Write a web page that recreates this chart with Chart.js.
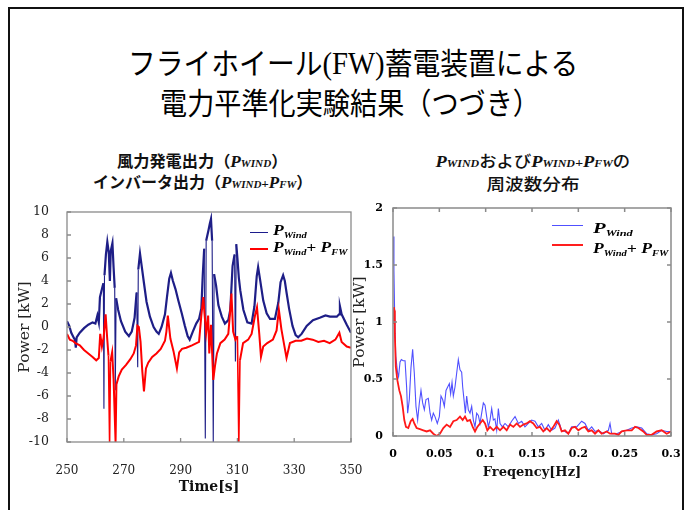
<!DOCTYPE html>
<html><head><meta charset="utf-8">
<script src="https://cdn.jsdelivr.net/npm/chart.js@4.4.1/dist/chart.umd.min.js"></script>
<style>
html,body{margin:0;padding:0;background:#fff;}
body{width:694px;height:510px;position:relative;overflow:hidden;}
#frame{position:absolute;left:8px;top:7px;width:676px;height:540px;border:2px solid #111;box-sizing:border-box;}
.t{position:absolute;white-space:nowrap;line-height:1;transform-origin:50% 50%;color:#000;}
.main{font-family:"Noto Sans CJK JP";font-size:30px;font-weight:400;}
.main .lat{font-family:"Liberation Serif";font-size:31px;}
.sub{font-family:"Noto Sans CJK JP";font-size:16px;font-weight:700;color:#111;}
.sub.r{font-weight:500;}
.P{font-family:"Liberation Serif";font-style:italic;font-weight:700;font-size:17px;}
.sc{font-family:"Liberation Serif";font-style:italic;font-weight:700;font-size:11px;}
.lg{font-family:"Liberation Serif";font-style:italic;font-weight:700;font-size:15px;color:#000;}
.lg sub{font-size:9px;vertical-align:baseline;position:relative;top:3px;}
.ln{position:absolute;}
canvas{position:absolute;}
</style></head>
<body>
<div id="frame"></div>
<div id="t1" class="t main">フライホイール<span class="lat">(FW)</span>蓄電装置による</div>
<div id="t2" class="t main">電力平準化実験結果（つづき）</div>
<div id="s1" class="t sub">風力発電出力（<span class="P">P</span><span class="sc">WIND</span>）</div>
<div id="s2" class="t sub">インバータ出力（<span class="P">P</span><span class="sc">WIND</span><span class="sc" style="font-size:13px">+</span><span class="P">P</span><span class="sc">FW</span>）</div>
<div id="s3" class="t sub r"><span class="P">P</span><span class="sc">WIND</span>および<span class="P">P</span><span class="sc">WIND</span><span class="sc" style="font-size:13px">+</span><span class="P">P</span><span class="sc">FW</span>の</div>
<div id="s4" class="t sub r">周波数分布</div>

<canvas id="c1" width="362" height="305" style="left:0px;top:195px"></canvas>
<canvas id="c2" width="340" height="300" style="left:350px;top:195px"></canvas>

<div class="ln" style="left:250px;top:232px;width:18px;height:1.4px;background:rgb(28,28,140)"></div>
<div class="ln" style="left:250px;top:248px;width:18px;height:2px;background:rgb(255,0,0)"></div>
<div id="l1" class="t lg">P<sub>Wind</sub></div>
<div id="l2" class="t lg">P<sub>Wind</sub>+ P<sub>FW</sub></div>

<div class="ln" style="left:552px;top:224.5px;width:31px;height:1px;background:rgb(80,80,255)"></div>
<div class="ln" style="left:552px;top:244px;width:31px;height:2px;background:rgb(255,30,30)"></div>
<div id="l3" class="t lg">P<sub>Wind</sub></div>
<div id="l4" class="t lg">P<sub>Wind</sub>+ P<sub>FW</sub></div>

<script>
// ---- Left chart: time series ----
const timeTicks = [250, 270, 290, 310, 330, 350];
const powerTicks = [-10, -8, -6, -4, -2, 0, 2, 4, 6, 8, 10];

const windTime = [250.0,250.8,251.5,252.5,252.8,253.1,253.4,254.5,256.0,257.5,259.0,260.0,260.7,261.2,261.6,262.3,262.8,263.0,263.2,263.7,264.2,264.7,265.1,265.4,266.0,266.4,266.8,267.0,267.3,268.0,269.0,270.5,271.8,272.8,273.8,274.5,274.9,275.1,275.7,276.3,277.0,278.0,279.2,280.5,281.5,282.3,283.3,284.5,285.2,286.0,286.6,287.3,288.2,289.2,290.4,291.5,292.5,293.2,294.3,295.5,296.5,297.3,297.8,298.3,298.7,299.0,299.8,300.3,300.7,301.1,301.5,301.8,302.5,303.3,304.5,305.6,306.8,307.5,308.3,309.0,309.3,309.6,310.0,310.5,311.0,312.1,313.5,315.0,316.0,316.8,317.3,318.0,319.1,320.3,321.5,323.2,324.4,325.2,326.1,326.7,327.3,328.2,329.4,330.5,331.4,332.6,334.4,336.6,339.0,341.0,342.6,345.0,345.8,346.1,346.7,348.5,350.0];
const windPower = [0.5,0.1,-0.5,-1.0,-1.1,-1.8,-0.9,-0.5,-0.1,0.2,0.4,0.3,1.0,0.4,2.6,3.3,3.8,-7.1,4.5,6.3,7.4,6.5,4.0,6.6,7.3,5.2,3.4,-5.5,2.5,1.5,0.5,-0.4,-0.8,-0.4,0.8,3.0,-3.5,5.0,6.4,5.3,4.0,2.2,0.9,0.0,-0.4,-0.6,0.0,1.1,2.6,4.2,4.7,4.0,3.3,2.3,1.2,0.1,-0.8,-1.1,-0.4,0.3,0.7,1.6,4.5,6.8,-9.7,7.5,8.4,9.0,9.4,7.5,-10,4.6,3.6,1.9,0.9,0.3,0.6,1.5,5.3,6.3,-3.0,7.2,6.0,4.3,3.2,1.5,0.4,0.3,1.8,4.4,5.2,4.1,2.3,1.2,0.7,0.7,2.1,3.9,4.5,4.0,3.0,1.6,0.1,-0.7,-0.9,-0.6,0.1,0.6,0.8,1.0,0.9,0.9,1.1,1.8,1.1,0.2,-0.5];

const fwTime = [250.0,251.0,252.0,253.0,254.5,256.0,257.5,259.0,260.3,261.2,261.7,262.3,262.9,263.6,264.1,264.6,265.0,265.3,265.9,266.4,267.1,267.4,268.2,269.3,270.8,272.3,273.5,274.3,274.8,275.3,275.9,276.5,277.1,277.8,278.6,280.0,281.5,283.0,284.5,285.0,285.5,286.4,287.5,288.7,289.5,290.5,292.0,294.0,296.5,297.3,298.0,298.4,299.0,299.7,300.1,300.7,301.5,302.1,302.8,304.0,305.5,306.8,307.5,307.9,308.5,309.3,310.0,310.5,310.9,312.0,313.8,315.0,316.2,316.9,317.7,318.3,319.1,320.5,322.5,323.8,324.6,325.5,326.5,327.3,328.5,330.5,332.5,334.5,336.5,338.5,340.5,342.5,344.5,345.9,346.7,348.5,350.0];
const fwPower = [-0.6,-1.1,-1.2,-1.4,-1.6,-2.0,-2.3,-2.6,-2.9,-2.7,-0.6,-1.7,-0.9,1.1,-0.8,-2.5,-10,-3.0,-2.2,-4.5,-10,-5.0,-4.3,-3.7,-3.3,-2.8,-2.3,-1.6,0.1,0.0,-1.3,-3.8,-5.6,-3.6,-3.1,-2.6,-2.3,-1.9,-1.2,-0.4,1.0,-1.0,-2.1,-3.6,-2.2,-1.9,-1.8,-1.6,-1.3,1.0,2.6,1.2,-0.5,1.0,-2.3,0.2,-4.6,-3.4,-2.3,-1.4,-1.1,-0.6,1.5,2.9,-0.4,-1.1,-0.8,-10,-2.9,-1.4,-1.1,-0.6,1.0,1.7,-0.6,-2.6,-1.7,-1.4,-1.1,-0.3,1.5,-0.2,-1.6,-2.7,-1.4,-1.2,-1.2,-1.0,-1.1,-1.3,-1.2,-1.4,-1.1,-0.5,-1.3,-1.7,-1.8];

// ---- Right chart: frequency spectrum ----
const freqTicks = [0, 0.05, 0.1, 0.15, 0.2, 0.25, 0.3];
const freqTickLabels = ['0', '0.05', '0.1', '0.15', '0.2', '0.25', '0.3'];
const specTicks = [0, 0.5, 1, 1.5, 2];
const specTickLabels = ['0', '0.5', '1', '1.5', '2'];

const freqWind = [0,0.001,0.002,0.003,0.005,0.006,0.0076,0.009,0.011,0.013,0.0147,0.0158,0.0176,0.0194,0.0212,0.023,0.0248,0.0266,0.0284,0.0302,0.032,0.0338,0.0356,0.0381,0.040,0.0417,0.0435,0.0453,0.0478,0.050,0.0518,0.0536,0.0554,0.0572,0.059,0.0608,0.0622,0.0637,0.0651,0.0669,0.0687,0.0705,0.0723,0.0741,0.0752,0.0766,0.0781,0.0795,0.0813,0.0831,0.0849,0.0867,0.0885,0.0903,0.0921,0.0939,0.0957,0.0975,0.0993,0.1011,0.1029,0.1047,0.1065,0.1083,0.110,0.1119,0.1137,0.1155,0.118,0.1209,0.1245,0.128,0.1317,0.1353,0.1389,0.1424,0.146,0.1496,0.1532,0.1568,0.1604,0.164,0.1676,0.1712,0.1748,0.1784,0.182,0.1856,0.1892,0.1928,0.1982,0.2036,0.2072,0.2108,0.2144,0.218,0.2216,0.227,0.2324,0.2342,0.236,0.2414,0.2468,0.2522,0.2576,0.263,0.2684,0.2737,0.2791,0.2845,0.2899,0.2953,0.300];
const specWind = [1.75,1.45,0.96,0.70,0.55,0.52,0.65,0.67,0.66,0.66,0.43,0.20,0.32,0.60,0.76,0.55,0.26,0.14,0.29,0.40,0.29,0.23,0.32,0.33,0.20,0.14,0.20,0.17,0.11,0.17,0.35,0.32,0.26,0.40,0.43,0.46,0.37,0.47,0.35,0.43,0.55,0.67,0.58,0.56,0.43,0.32,0.20,0.35,0.23,0.20,0.26,0.14,0.08,0.20,0.18,0.11,0.20,0.29,0.27,0.17,0.08,0.14,0.24,0.14,0.15,0.05,0.24,0.11,0.08,0.11,0.08,0.13,0.17,0.11,0.13,0.08,0.11,0.14,0.13,0.08,0.11,0.05,0.10,0.05,0.07,0.14,0.05,0.04,0.02,0.08,0.08,0.13,0.11,0.05,0.08,0.04,0.05,0.02,0.05,0.11,0.02,0.02,0.04,0.05,0.07,0.08,0.07,0.02,0.01,0.02,0.05,0.04,0.04];

const freqFw = [0,0.001,0.0015,0.002,0.003,0.0047,0.0068,0.0086,0.0104,0.0122,0.014,0.0165,0.0191,0.0212,0.023,0.0255,0.0291,0.0327,0.0363,0.040,0.0435,0.0471,0.0507,0.0543,0.0579,0.0615,0.0651,0.0687,0.0723,0.0752,0.0777,0.0802,0.0831,0.086,0.0885,0.091,0.0939,0.0968,0.0993,0.1018,0.1047,0.1083,0.1119,0.1155,0.1191,0.1227,0.1263,0.1299,0.1335,0.1371,0.1406,0.1442,0.1478,0.1514,0.155,0.1586,0.1622,0.1658,0.1694,0.173,0.1766,0.1795,0.182,0.1856,0.1892,0.1928,0.1964,0.20,0.2036,0.2072,0.2108,0.2144,0.218,0.2216,0.2252,0.2306,0.2342,0.2396,0.2432,0.2468,0.2522,0.2576,0.2612,0.2648,0.2701,0.2737,0.2791,0.2845,0.2899,0.2953,0.300];
const specFw = [0.99,1.13,1.10,0.90,0.61,0.49,0.40,0.35,0.26,0.14,0.08,0.07,0.13,0.15,0.11,0.07,0.06,0.05,0.04,0.05,0.02,0.00,0.02,0.07,0.10,0.08,0.13,0.14,0.17,0.14,0.17,0.13,0.14,0.08,0.04,0.08,0.11,0.14,0.11,0.05,0.08,0.05,0.08,0.05,0.08,0.05,0.10,0.08,0.11,0.08,0.10,0.11,0.13,0.11,0.07,0.08,0.04,0.07,0.04,0.08,0.13,0.10,0.04,0.05,0.02,0.07,0.08,0.05,0.07,0.08,0.04,0.05,0.02,0.05,0.02,0.04,0.02,0.02,0.01,0.04,0.05,0.05,0.08,0.07,0.04,0.01,0.01,0.04,0.05,0.02,0.04];

const xy = (xs, ys) => xs.map((x, i) => ({ x: x, y: ys[i] }));

const framePlugin = {
  id: 'frame',
  afterDatasetsDraw(chart, args, o) {
    const { ctx, chartArea: a, scales: { x, y } } = chart;
    ctx.save();
    ctx.strokeStyle = o.color;
    ctx.lineWidth = o.width;
    ctx.beginPath();
    x.ticks.forEach(t => {
      const p = x.getPixelForValue(t.value);
      ctx.moveTo(p, a.bottom); ctx.lineTo(p, a.bottom - o.len);
      if (o.all) { ctx.moveTo(p, a.top); ctx.lineTo(p, a.top + o.len); }
    });
    y.ticks.forEach(t => {
      const p = y.getPixelForValue(t.value);
      ctx.moveTo(a.left, p); ctx.lineTo(a.left + o.len, p);
      if (o.all) { ctx.moveTo(a.right, p); ctx.lineTo(a.right - o.len, p); }
    });
    ctx.stroke();
    ctx.strokeRect(a.left, a.top, a.right - a.left, a.bottom - a.top);
    ctx.restore();
  }
};

// thin stroke on the sharp one-sample spikes
const spikeWidth = (thin) => (c) => Math.abs(c.p1.parsed.y - c.p0.parsed.y) > 6 ? thin : undefined;
const noPad = s => { s.paddingLeft = 0; s.paddingRight = 0; };

new Chart(document.getElementById('c1'), {
  type: 'line',
  data: { datasets: [
    { label: 'P_Wind', data: xy(windTime, windPower), borderColor: 'rgb(30,30,135)', borderWidth: 2.2, pointRadius: 0, order: 2,
      segment: { borderWidth: spikeWidth(1.1) } },
    { label: 'P_Wind + P_FW', data: xy(fwTime, fwPower), borderColor: 'rgb(255,0,0)', borderWidth: 2, pointRadius: 0, order: 1,
      segment: { borderWidth: spikeWidth(1.6) } }
  ]},
  options: {
    responsive: false, animation: false,
    layout: { padding: { top: 17, right: 11, left: 0, bottom: 0 } },
    plugins: { legend: { display: false }, tooltip: { enabled: false },
      frame: { color: '#8a8a8a', width: 1.3, len: 4, all: false } },
    scales: {
      x: { type: 'linear', min: 250, max: 350,
        afterBuildTicks: s => { s.ticks = timeTicks.map(v => ({ value: v })); },
        afterFit: s => { s.height = 58; noPad(s); },
        grid: { display: false }, border: { display: false },
        ticks: { font: { family: 'DejaVu Serif', size: 12 }, color: '#222', padding: 14, maxRotation: 0, autoSkip: false, callback: v => String(v) },
        title: { display: true, text: 'Time[s]', font: { family: 'DejaVu Serif', size: 14, weight: 'bold' }, color: '#111', padding: { top: 0, bottom: 4 } } },
      y: { type: 'linear', min: -10, max: 10,
        afterBuildTicks: s => { s.ticks = powerTicks.map(v => ({ value: v })); },
        afterFit: s => { s.width = 67; s.paddingTop = 0; s.paddingBottom = 0; },
        grid: { display: false }, border: { display: false },
        ticks: { font: { family: 'DejaVu Serif', size: 12.5 }, color: '#222', padding: 10, autoSkip: false, callback: v => String(v) },
        title: { display: true, text: 'Power [kW]', font: { family: 'DejaVu Serif', size: 15.5 }, color: '#222', padding: { top: 16, bottom: 0 } } }
    }
  },
  plugins: [framePlugin]
});

new Chart(document.getElementById('c2'), {
  type: 'line',
  data: { datasets: [
    { label: 'P_Wind', data: xy(freqWind, specWind), borderColor: 'rgb(80,80,255)', borderWidth: 1.1, pointRadius: 0, order: 2 },
    { label: 'P_Wind + P_FW', data: xy(freqFw, specFw), borderColor: 'rgb(255,25,25)', borderWidth: 1.8, pointRadius: 0, order: 1 }
  ]},
  options: {
    responsive: false, animation: false,
    layout: { padding: { top: 13, right: 19, left: 0, bottom: 0 } },
    plugins: { legend: { display: false }, tooltip: { enabled: false },
      frame: { color: '#8a8a8a', width: 1.5, len: 4, all: true } },
    scales: {
      x: { type: 'linear', min: 0, max: 0.3,
        afterBuildTicks: s => { s.ticks = freqTicks.map(v => ({ value: v })); },
        afterFit: s => { s.height = 59; noPad(s); },
        grid: { display: false }, border: { display: false },
        ticks: { font: { family: 'DejaVu Serif', size: 11, weight: 'bold' }, color: '#000', padding: 4, maxRotation: 0, autoSkip: false,
          callback: (v, i) => freqTickLabels[i] },
        title: { display: true, text: 'Freqency[Hz]', font: { family: 'DejaVu Serif', size: 13, weight: 'bold' }, color: '#111', padding: { top: 0, bottom: 15 } } },
      y: { type: 'linear', min: 0, max: 2,
        afterBuildTicks: s => { s.ticks = specTicks.map(v => ({ value: v })); },
        afterFit: s => { s.width = 43; s.paddingTop = 0; s.paddingBottom = 0; },
        grid: { display: false }, border: { display: false },
        ticks: { font: { family: 'DejaVu Serif', size: 11, weight: 'bold' }, color: '#000', padding: 2, autoSkip: false,
          callback: (v, i) => specTickLabels[i] },
        title: { display: true, text: 'Power [kW]', font: { family: 'DejaVu Serif', size: 15.5 }, color: '#222', padding: { top: 1, bottom: 0 } } }
    }
  },
  plugins: [framePlugin]
});

function place(id, x, cy, w, align) {
  const el = document.getElementById(id);
  el.style.transform = 'none';
  const W = el.offsetWidth, H = el.offsetHeight;
  const s = w ? w / W : 1;
  el.style.top = (cy - H / 2) + 'px';
  if (align === 'left') { el.style.left = x + 'px'; el.style.transformOrigin = '0 50%'; }
  else { el.style.left = (x - W / 2) + 'px'; el.style.transformOrigin = '50% 50%'; }
  el.style.transform = 'scaleX(' + s + ')';
}
function layoutText() {
  place('t1', 353, 62, 450);
  place('t2', 350, 101, 380);
  place('s1', 202, 161, 170);
  place('s2', 202.5, 182, 219);
  place('s3', 532.5, 161, 195);
  place('s4', 533, 183, 93);
  place('l1', 273, 230, 34, 'left');
  place('l2', 273, 247.5, 74, 'left');
  place('l3', 593, 228, 40, 'left');
  place('l4', 593, 248, 75, 'left');
}
layoutText();
if (document.fonts && document.fonts.ready) document.fonts.ready.then(layoutText);
</script>
</body></html>
